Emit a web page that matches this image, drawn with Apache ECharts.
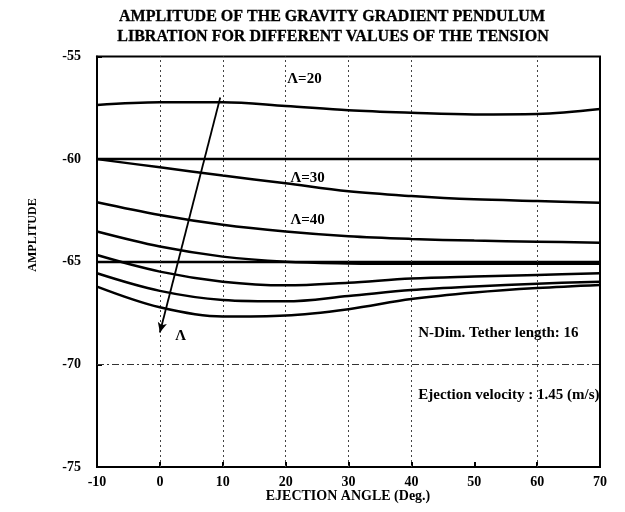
<!DOCTYPE html>
<html>
<head>
<meta charset="utf-8">
<script src="https://cdn.jsdelivr.net/npm/echarts@6/dist/echarts.min.js"></script>
<style>
  html, body { margin: 0; padding: 0; background: #fff; }
  #chart { width: 625px; height: 512px; }
</style>
</head>
<body>
<div id="chart"></div>
<script>
// Ejection angle samples (deg)
const ejectionAngle = [-10, 0, 10, 20, 30, 40, 50, 60, 70];

// Libration amplitude for each tension value
const ampLambda20 = [-57.36, -57.23, -57.23, -57.41, -57.62, -57.74, -57.82, -57.80, -57.56];
const ampLambda30 = [-60.00, -60.40, -60.80, -61.18, -61.57, -61.80, -61.96, -62.04, -62.12];
const ampLambda40 = [-62.10, -62.72, -63.20, -63.53, -63.76, -63.89, -63.97, -64.02, -64.08];
const ampLambda50 = [-63.53, -64.26, -64.75, -65.00, -65.08, -65.10, -65.10, -65.10, -65.10];
const ampLambda60 = [-64.67, -65.48, -65.97, -66.15, -66.02, -65.82, -65.72, -65.64, -65.56];
const ampLambda70 = [-65.56, -66.42, -66.86, -66.93, -66.67, -66.38, -66.20, -66.07, -65.97];
const ampLambda80 = [-66.21, -67.22, -67.67, -67.62, -67.31, -66.82, -66.50, -66.28, -66.13];

// Solid reference levels and dotted guide lines
const solidLevels = [-60, -65];
const dashLevels = [-70];
const verticalGuides = [0, 10, 20, 30, 40, 60];

// Increasing-tension arrow (from, to)
const arrowFrom = [9.6, -57.0];
const arrowTo = [0.0, -68.45];

// In-plot annotations: [x, y, text]
const notes = [
  [23.0, -56.1, 'Λ=20'],
  [23.5, -60.95, 'Λ=30'],
  [23.5, -62.95, 'Λ=40'],
  [3.3, -68.6, 'Λ']
];
const infoNotes = [
  [41.1, -68.5, 'N-Dim. Tether length: 16'],
  [41.1, -71.5, 'Ejection velocity : 1.45 (m/s)']
];

const xTicks = [-10, 0, 10, 20, 30, 40, 50, 60, 70];
const yTicks = [-75, -70, -65, -60, -55];

const serif = '"Liberation Serif", "DejaVu Serif", serif';
const curveSets = [ampLambda20, ampLambda30, ampLambda40, ampLambda50, ampLambda60, ampLambda70, ampLambda80];

const curveSeries = curveSets.map(vals => ({
  type: 'line',
  data: ejectionAngle.map((a, i) => [a, vals[i]]),
  smooth: 0.35,
  showSymbol: false,
  symbol: 'none',
  lineStyle: { color: '#000', width: 2.5 },
  z: 5,
  silent: true
}));

const textLabel = (size, pos) => ({
  show: true, position: pos, distance: 0, formatter: p => p.name, color: '#000', opacity: 1,
  fontFamily: serif, fontWeight: 'bold', fontSize: size
});

const chart = echarts.init(document.getElementById('chart'));
chart.setOption({
  animation: false,
  backgroundColor: '#fff',
  grid: { left: 97, right: 25, top: 56.5, bottom: 45, show: true, borderColor: '#000', borderWidth: 2, backgroundColor: 'transparent' },
  xAxis: {
    type: 'value', min: -10, max: 70, interval: 10,
    axisLine: { show: true, onZero: false, lineStyle: { color: '#000', width: 2 } },
    axisTick: { show: true, inside: true, length: 5, lineStyle: { color: '#000', width: 2 } },
    splitLine: { show: false },
    axisLabel: { color: '#000', fontFamily: serif, fontWeight: 'bold', fontSize: 14, margin: 8,
      formatter: v => xTicks.includes(v) ? String(v) : '' }
  },
  yAxis: {
    type: 'value', min: -75, max: -55, interval: 5,
    axisLine: { show: true, onZero: false, lineStyle: { color: '#000', width: 2 } },
    axisTick: { show: true, inside: true, length: 5, lineStyle: { color: '#000', width: 2 } },
    splitLine: { show: false },
    axisLabel: { color: '#000', fontFamily: serif, fontWeight: 'bold', fontSize: 14, margin: 16,
      formatter: v => yTicks.includes(v) ? String(v) : '' }
  },
  graphic: [
    { type: 'text', x: 332, y: 17, style: { text: 'AMPLITUDE OF THE GRAVITY GRADIENT PENDULUM', fill: '#000',
        stroke: '#000', lineWidth: 0.3, font: 'bold 16px ' + serif, textAlign: 'center', textVerticalAlign: 'middle' } },
    { type: 'text', x: 333, y: 37, style: { text: 'LIBRATION FOR DIFFERENT VALUES OF THE TENSION', fill: '#000',
        stroke: '#000', lineWidth: 0.3, font: 'bold 16px ' + serif, textAlign: 'center', textVerticalAlign: 'middle' } },
    { type: 'text', x: 348, y: 496, style: { text: 'EJECTION ANGLE (Deg.)', fill: '#000',
        font: 'bold 14px ' + serif, textAlign: 'center', textVerticalAlign: 'middle' } },
    { type: 'text', x: 33, y: 235, rotation: Math.PI / 2, style: { text: 'AMPLITUDE', fill: '#000',
        font: 'bold 12px ' + serif, textAlign: 'center', textVerticalAlign: 'middle' } }
  ],
  series: [
    ...curveSeries,
    {
      type: 'line', data: [], silent: true,
      markLine: {
        silent: true, symbol: ['none', 'none'], label: { show: false },
        data: [
          ...solidLevels.map(v => ({ yAxis: v, lineStyle: { type: 'solid', color: '#000', width: 2.4 } })),
          ...dashLevels.map(v => ({ yAxis: v, lineStyle: { type: [7, 3, 2, 3], color: '#333', width: 1.2 } })),
          ...verticalGuides.map(v => ({ xAxis: v, lineStyle: { type: [2, 3], color: '#444', width: 1 } }))
        ]
      },
      z: 3
    },
    {
      type: 'line', data: [], silent: true,
      markLine: {
        silent: true, symbol: ['none', 'arrow'], symbolSize: [7, 10], label: { show: false },
        lineStyle: { type: 'solid', color: '#000', width: 1.8 },
        data: [[{ coord: arrowFrom }, { coord: arrowTo }]]
      },
      z: 6
    },
    {
      type: 'scatter', symbolSize: 0, silent: true, z: 7, itemStyle: { opacity: 1 },
      data: notes.map(n => ({ value: [n[0], n[1]], name: n[2] })),
      label: textLabel(15, 'inside')
    },
    {
      type: 'scatter', symbolSize: 0, silent: true, z: 7, itemStyle: { opacity: 1 },
      data: infoNotes.map(n => ({ value: [n[0], n[1]], name: n[2] })),
      label: textLabel(15, 'right')
    }
  ]
});
</script>
</body>
</html>
